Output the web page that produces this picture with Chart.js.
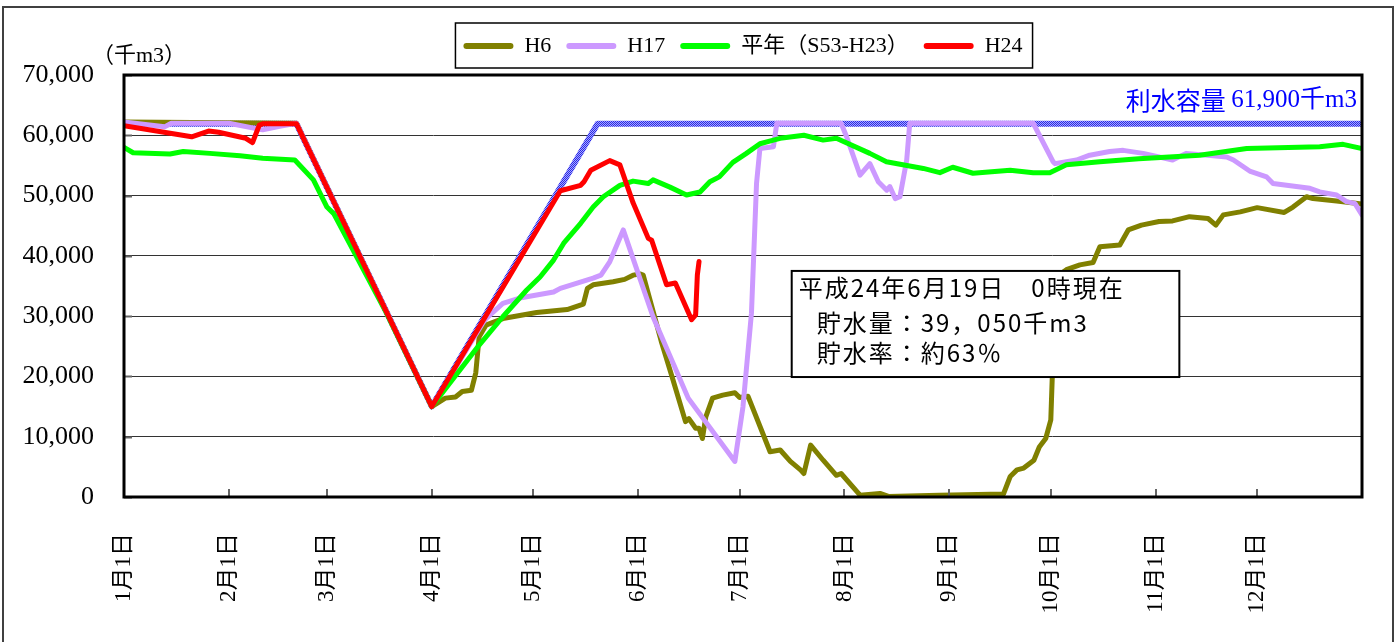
<!DOCTYPE html>
<html>
<head>
<meta charset="utf-8">
<script src="https://cdn.jsdelivr.net/npm/chart.js@4.4.1/dist/chart.umd.min.js"></script>
<style>
  html, body { margin: 0; padding: 0; background: #fff; }
</style>
</head>
<body>
<canvas id="storageChart" width="1399" height="642"></canvas>
<script>
// x = day of year (0 = 1月1日, leap year), y = 貯水量 (千m3)
const monthStarts = [0, 31, 60, 91, 121, 152, 182, 213, 244, 274, 305, 335];
const monthLabels = ["1月1日", "2月1日", "3月1日", "4月1日", "5月1日", "6月1日",
                     "7月1日", "8月1日", "9月1日", "10月1日", "11月1日", "12月1日"];
const yTickValues = [0, 10000, 20000, 30000, 40000, 50000, 60000, 70000];

const capacityDays   = [0, 51, 91, 140, 366];
const capacityValues = [61900, 61900, 15000, 61900, 61900];

const h6Days = [0, 51, 91, 95, 98, 100, 102.7, 104, 105, 107, 112, 122, 131, 135.8, 137, 138.7,
  144.6, 148, 150.5, 152.5, 153.5, 159, 162, 166, 167, 169, 170, 171, 172, 174, 177, 180.6, 182,
  184.5, 191, 194, 197, 200, 201, 203, 206.7, 210.6, 212, 217.6, 223.5, 226, 241, 260, 262, 264,
  266, 269, 270.6, 272.5, 274, 274.5, 275.5, 278.6, 282.6, 286.5, 288.5, 294.4, 296.9, 300.8, 306,
  310, 315, 320.5, 322.8, 325, 330, 335, 343, 345.6, 349.6, 351.5, 358.5, 366];
const h6Values = [62200, 62000, 15000, 16400, 16600, 17500, 17700, 20600, 26600, 28500, 29600, 30600,
  31100, 32000, 34600, 35200, 35700, 36100, 36800, 37000, 36800, 25500, 20000, 12500, 13000, 11400,
  11400, 9700, 13300, 16400, 16900, 17300, 16500, 16700, 7500, 7800, 5900, 4500, 3900, 8600, 6100,
  3600, 3900, 300, 600, 100, 300, 500, 3400, 4500, 4800, 6100, 8300, 9700, 12800, 21000, 36500,
  37700, 38500, 38900, 41500, 41800, 44300, 45100, 45700, 45800, 46500, 46200, 45100, 46800, 47300,
  48000, 47200, 48100, 49800, 49500, 49100, 48600];

const h17Days = [0, 12, 14, 31, 41, 46, 51, 91, 106, 107, 112, 117, 127, 129, 138.7, 141, 143.6,
  147.6, 156.4, 166.8, 180.6, 183, 185.5, 187, 188, 192, 193, 212, 213.6, 217.6, 220.5, 223, 225.5,
  226.4, 228, 229.4, 231.4, 232.3, 268.8, 274.7, 275.2, 281.6, 285.5, 291.4, 295.4, 301.3, 310, 314,
  326, 328, 333, 337.8, 339.7, 350.6, 353.5, 358.5, 361.4, 363.9, 366];
const h17Values = [62200, 61400, 62000, 62000, 60900, 61500, 62000, 15000, 28800, 29600, 32100,
  33000, 34000, 34600, 36300, 36800, 39000, 44300, 29900, 16400, 5900, 15000, 30500, 52000, 57800,
  58100, 62000, 62000, 59800, 53400, 55300, 52300, 50900, 51500, 49500, 49800, 55900, 62000, 62000,
  55600, 55300, 55900, 56700, 57300, 57500, 57000, 55900, 57000, 56400, 55900, 54000, 53100, 52000,
  51200, 50600, 50100, 49000, 48700, 46800];

const normalDays = [0, 2.7, 13.6, 17.5, 25.4, 34.3, 41, 50.5, 56, 60, 62, 77.6, 91, 105, 112, 119,
  123, 127, 130, 135, 138.7, 141.7, 146.6, 150.5, 155, 156.4, 161.4, 166.3, 170.3, 173.2, 176, 180,
  184, 188, 192, 194, 201, 206.7, 210.6, 220.5, 225.4, 236.3, 241.2, 245, 251, 262, 268.8, 273.7,
  278.6, 288.5, 300, 318, 331.9, 353.5, 360.4, 366];
const normalValues = [58000, 57100, 56900, 57300, 57000, 56600, 56200, 55900, 52600, 48100, 47000,
  30500, 15000, 25200, 29900, 34300, 36500, 39300, 42100, 45400, 48100, 49800, 51700, 52400, 52000,
  52600, 51400, 50100, 50600, 52300, 53100, 55500, 57000, 58600, 59200, 59500, 60000, 59200, 59500,
  57000, 55600, 54500, 53800, 54700, 53700, 54200, 53800, 53800, 55100, 55600, 56100, 56700, 57800,
  58100, 58500, 57800];

const h24Days = [0, 20, 25, 28, 36, 38, 40, 41, 51, 91, 129, 135, 136, 138, 143.6, 146.6, 150.5,
  155, 156, 160.4, 163, 167.8, 169, 169.5, 170];
const h24Values = [61600, 59750, 60700, 60500, 59500, 58800, 61700, 61900, 61900, 15000, 50800,
  51700, 52300, 54200, 55800, 55100, 48800, 42900, 42600, 35200, 35500, 29400, 30200, 36800, 39050];

const noteLines = ["平成24年6月19日　0時現在", "貯水量：39，050千m3", "貯水率：約63％"];
const capacityText = ["利水容量 ", "61,900千m3"];
const unitText = "（千m3）";

const serif = "'Liberation Serif', 'Noto Sans CJK JP', serif";
const gothic = "'Noto Sans CJK JP', sans-serif";

const toPoints = (days, values) => days.map((d, i) => ({ x: d, y: values[i] }));

// checkered blue band like the original capacity line
const capacityPattern = (() => {
    const c = document.createElement("canvas");
    c.width = 2; c.height = 2;
    const g = c.getContext("2d");
    g.fillStyle = "#a8a8ff";
    g.fillRect(0, 0, 2, 2);
    g.fillStyle = "#2828e6";
    g.fillRect(0, 0, 1, 1);
    g.fillRect(1, 1, 1, 1);
    return g.createPattern(c, "repeat");
})();

const decorations = {
    id: "decorations",
    beforeDraw(chart) {
        const ctx = chart.ctx;
        ctx.save();
        ctx.fillStyle = "#fff";
        ctx.fillRect(0, 0, chart.width, chart.height);
        ctx.strokeStyle = "#404040";
        ctx.lineWidth = 2;
        ctx.strokeRect(3, 7, 1390, 700);
        ctx.restore();
    },
    afterDatasetsDraw(chart) {
        const { ctx, chartArea: a, scales: { x, y } } = chart;
        ctx.save();

        // small inward tick marks
        ctx.strokeStyle = "#666";
        ctx.lineWidth = 2;
        monthStarts.slice(1).forEach(v => {
            const px = Math.round(x.getPixelForValue(v));
            ctx.beginPath();
            ctx.moveTo(px, a.bottom);
            ctx.lineTo(px, a.bottom - 8);
            ctx.stroke();
        });
        yTickValues.forEach(v => {
            const py = Math.round(y.getPixelForValue(v)) + 0.5;
            ctx.beginPath();
            ctx.moveTo(a.left, py);
            ctx.lineTo(a.left + 8, py);
            ctx.stroke();
        });

        // plot frame
        ctx.strokeStyle = "#000";
        ctx.lineWidth = 3;
        ctx.strokeRect(a.left, a.top, a.right - a.left, a.bottom - a.top);

        // status box
        const bl = x.getPixelForValue(197.4), br = x.getPixelForValue(312);
        const bt = y.getPixelForValue(37500), bb = y.getPixelForValue(19900);
        ctx.fillStyle = "#fff";
        ctx.fillRect(bl, bt, br - bl, bb - bt);
        ctx.strokeStyle = "#000";
        ctx.lineWidth = 2;
        ctx.strokeRect(bl, bt, br - bl, bb - bt);
        ctx.fillStyle = "#000";
        ctx.font = "24px " + gothic;
        ctx.textBaseline = "middle";
        ctx.textAlign = "left";
        ctx.letterSpacing = "2px";
        ctx.fillText(noteLines[0], bl + 7, bt + 17);
        ctx.fillText(noteLines[1], bl + 25, bt + 52);
        ctx.fillText(noteLines[2], bl + 25, bt + 82);
        ctx.restore();
    },
    afterDraw(chart) {
        const { ctx, chartArea: a, scales: { y } } = chart;
        ctx.save();

        // box round the legend
        const lg = chart.legend;
        const hb = lg.legendHitBoxes;
        const lx = Math.min(...hb.map(h => h.left)) - 8;
        const rx = Math.max(...hb.map(h => h.left + h.width)) + 10;
        ctx.strokeStyle = "#000";
        ctx.lineWidth = 1.5;
        ctx.strokeRect(lx, lg.top + 3, rx - lx, lg.height - 2);

        // unit label
        ctx.fillStyle = "#000";
        ctx.font = "22px " + serif;
        ctx.textBaseline = "middle";
        ctx.textAlign = "left";
        ctx.fillText(unitText, 92, 56);

        // capacity label
        const cy = y.getPixelForValue(capacityValues[0]) - 23;
        ctx.fillStyle = "#0000ff";
        ctx.textAlign = "right";
        ctx.font = "25px " + serif;
        const w2 = ctx.measureText(capacityText[1]).width;
        ctx.fillText(capacityText[1], a.right - 5, cy);
        ctx.font = "25px " + gothic;
        ctx.fillText(capacityText[0], a.right - 5 - w2, cy);
        ctx.restore();
    }
};

new Chart(document.getElementById("storageChart"), {
    type: "line",
    data: {
        datasets: [
            { label: "H6", data: toPoints(h6Days, h6Values), borderColor: "#808000", borderWidth: 5, order: 4 },
            { label: "H17", data: toPoints(h17Days, h17Values), borderColor: "#cc99ff", borderWidth: 5, order: 3 },
            { label: "平年（S53-H23）", data: toPoints(normalDays, normalValues), borderColor: "#00ff00", borderWidth: 5, order: 2 },
            { label: "H24", data: toPoints(h24Days, h24Values), borderColor: "#ff0000", borderWidth: 5, order: 1 },
            { label: "利水容量", data: toPoints(capacityDays, capacityValues), borderColor: capacityPattern, borderWidth: 6, order: 5 }
        ]
    },
    options: {
        responsive: false,
        animation: false,
        elements: {
            point: { radius: 0, hoverRadius: 0 },
            line: { tension: 0, fill: false, borderJoinStyle: "round", borderCapStyle: "round" }
        },
        layout: { padding: { top: 20, left: 0, right: 37, bottom: 0 } },
        plugins: {
            tooltip: { enabled: false },
            title: { display: true, text: "", weight: 500, padding: 0, font: { size: 8, lineHeight: 1 } },
            legend: {
                position: "top",
                fullSize: false,
                labels: {
                    font: { family: serif, size: 22 },
                    color: "#000",
                    boxWidth: 50,
                    boxHeight: 6,
                    padding: 15,
                    useBorderRadius: true,
                    borderRadius: 3,
                    generateLabels: chart => chart.data.datasets.map((ds, i) => ({
                        text: ds.label,
                        fillStyle: ds.borderColor,
                        strokeStyle: ds.borderColor,
                        lineWidth: 0,
                        borderRadius: 3,
                        hidden: false,
                        datasetIndex: i
                    })),
                    filter: item => item.datasetIndex < 4
                }
            }
        },
        scales: {
            x: {
                type: "linear",
                min: 0,
                max: 366,
                afterBuildTicks: s => { s.ticks = monthStarts.map(v => ({ value: v })); },
                afterFit: s => { s.height = 145; },
                ticks: {
                    autoSkip: false,
                    minRotation: 90,
                    maxRotation: 90,
                    padding: 28,
                    color: "#000",
                    font: { family: serif, size: 23 },
                    callback: (v, i) => monthLabels[i]
                },
                grid: { display: false },
                border: { display: false }
            },
            y: {
                min: 0,
                max: 70000,
                afterBuildTicks: s => { s.ticks = yTickValues.map(v => ({ value: v })); },
                afterFit: s => { s.width = 124; },
                ticks: {
                    padding: 30,
                    color: "#000",
                    font: { family: serif, size: 26 },
                    callback: v => v.toLocaleString("en-US")
                },
                grid: { color: "#333", lineWidth: 1, drawTicks: false },
                border: { display: false }
            }
        }
    },
    plugins: [decorations]
});
</script>
</body>
</html>
